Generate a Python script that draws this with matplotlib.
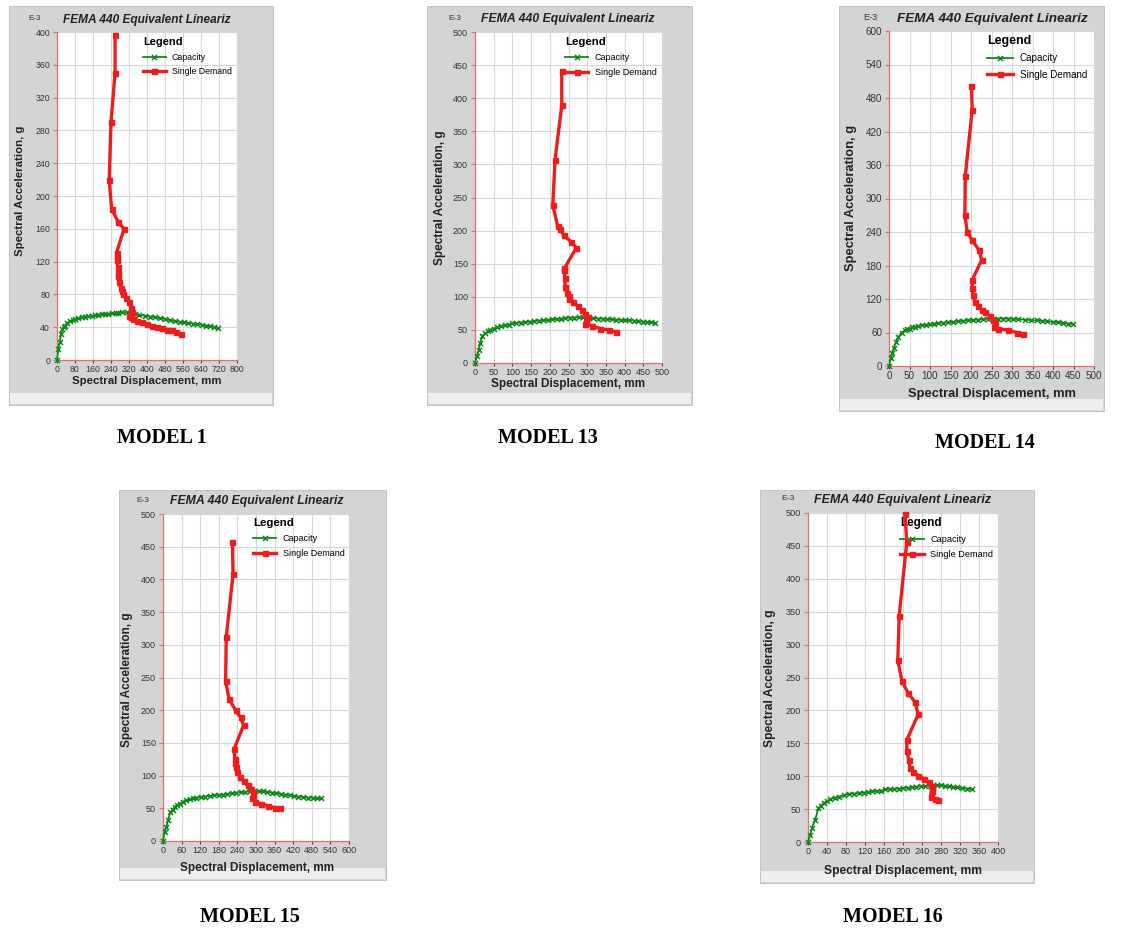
import matplotlib
matplotlib.use("Agg")
import matplotlib.pyplot as plt
from matplotlib.patches import Rectangle
from matplotlib.lines import Line2D

W, H = 1123, 931

# --- data (spectral displacement mm, spectral acceleration E-3 g) ---
cap1_x = [0, 6, 12, 18, 24, 30, 36, 45, 58, 70, 80, 95, 110, 125, 139, 155, 170, 184, 200, 215,
          228, 245, 260, 273, 290, 310, 328, 347, 365, 391, 413, 436, 458, 480, 502, 524, 545, 566,
          584, 604, 623, 643, 662, 680, 697, 714]
cap1_y = [0, 13, 22, 32, 38, 40, 42, 45, 47, 49, 50, 51, 52, 53, 53.5, 54, 54.5, 55, 55.5, 56,
          56, 57, 57, 57.5, 58, 58, 57, 56, 55, 54, 53, 52, 51, 50, 48.5, 47, 46.5, 46,
          45, 44.5, 44, 43, 42, 41, 40, 39]
dem1_x = [258, 258, 240, 232, 243, 273, 298, 265, 268, 268, 270, 270, 270, 276, 284, 290, 295,
          307, 320, 329, 332, 320, 330, 339, 355, 376, 398, 421, 443, 465, 488, 510, 530, 551]
dem1_y = [396, 350, 290, 219, 184, 168, 160, 131, 126, 122, 113, 106, 102, 95, 88, 84, 81,
          76, 71, 64, 58, 54, 52, 50, 48, 46, 44, 42, 40, 39, 37, 36, 34, 32]

cap13_x = [0, 5, 10, 14, 20, 28, 35, 41, 50, 59, 70, 81, 90, 99, 110, 122, 134, 146, 158, 170,
           182, 194, 206, 218, 230, 241, 253, 265, 277, 290, 303, 316, 330, 342, 354, 366, 378,
           390, 401, 413, 425, 437, 449, 460, 470, 480]
cap13_y = [0, 10, 20, 30, 41, 45, 48, 50, 52, 54, 56, 57, 58, 60, 60.5, 61, 62, 62.5, 63, 64,
           64.5, 65, 66, 66.5, 67, 68, 68.5, 68.5, 69, 69, 69, 68, 67, 67, 66.5, 66, 65.5,
           65, 65, 64.5, 64, 63, 62.5, 62, 61.5, 61]
dem13_x = [232, 232, 214, 208, 221, 228, 237, 257, 271, 239, 239, 240, 241, 245, 250, 252, 262,
           275, 286, 294, 302, 297, 295, 312, 335, 357, 377]
dem13_y = [441, 389, 307, 238, 207, 203, 193, 183, 174, 143, 141, 128, 115, 105, 101, 97, 92,
           86, 80, 74, 69, 64, 59, 56, 52, 50, 47]

cap14_x = [0, 5, 8, 12, 17, 23, 31, 39, 45, 51, 57, 63, 71, 80, 90, 100, 110, 120, 132, 144,
           156, 169, 181, 193, 205, 218, 230, 242, 254, 266, 278, 291, 303, 315, 331, 347, 360,
           372, 386, 400, 412, 425, 437, 449]
cap14_y = [0, 14, 23, 33, 43, 52, 60, 64, 66, 67, 69, 70, 71.5, 73, 74, 75, 76, 77, 77.5, 78,
           79, 80, 81, 82, 82.5, 83, 84, 85, 85, 85, 85, 85, 84.5, 84, 83, 82, 81.5,
           81, 80, 79, 78, 77, 76, 75]
dem14_x = [201, 203, 186, 185, 191, 203, 220, 226, 203, 203, 205, 209, 218, 226, 234, 246, 254,
           258, 256, 266, 291, 311, 327]
dem14_y = [501, 459, 340, 270, 240, 225, 207, 190, 154, 139, 127, 115, 107, 101, 96, 89, 83,
           77, 70, 67, 64, 60, 57]

cap15_x = [0, 5, 11, 16, 24, 31, 38, 46, 54, 64, 75, 86, 97, 108, 122, 136, 150, 165, 180, 194,
           208, 222, 237, 251, 265, 280, 294, 309, 323, 337, 352, 366, 380, 395, 409, 423, 437,
           452, 468, 484, 498, 511]
cap15_y = [0, 14, 21, 32, 44, 48, 52, 55, 57, 60, 62, 63.5, 65, 66, 67, 68, 69, 70, 70.5, 71,
           72, 73, 74, 74.5, 75, 76, 76, 76, 76, 75, 74, 73, 72, 71, 70, 69, 68,
           67, 66.5, 66, 65.5, 65]
dem15_x = [224, 226, 204, 202, 213, 234, 250, 260, 229, 232, 232, 234, 239, 247, 260, 274, 285,
           290, 289, 287, 296, 317, 339, 360, 378]
dem15_y = [457, 408, 312, 244, 217, 200, 189, 177, 140, 125, 120, 113, 105, 98, 91, 85, 79,
           73, 68, 65, 60, 57, 54, 51, 50]

cap16_x = [0, 5, 8, 15, 22, 27, 33, 40, 47, 56, 65, 75, 86, 97, 107, 117, 126, 135, 145, 154,
           163, 172, 182, 191, 200, 210, 219, 228, 238, 247, 256, 264, 272, 280, 288, 296, 305,
           314, 324, 335, 345]
cap16_y = [0, 11, 21, 34, 51, 55, 59, 62, 65, 67, 69, 71, 73, 73.5, 74, 75, 76, 77, 77.5, 78,
           80, 80.5, 81, 81, 82, 82.5, 83, 84, 84.5, 85, 85.5, 86, 86, 86, 85.5, 85, 84,
           83, 82, 81, 80]
dem16_x = [204, 208, 192, 189, 198, 211, 225, 232, 208, 208, 212, 215, 222, 232, 244, 254, 261,
           262, 260, 258, 268, 274]
dem16_y = [499, 456, 344, 276, 244, 226, 213, 194, 155, 139, 125, 113, 107, 101, 96, 91, 85,
           80, 77, 69, 66, 64]

captions = ["MODEL 1", "MODEL 13", "MODEL 14", "MODEL 15", "MODEL 16"]
x_max = [800, 500, 500, 600, 400]
x_step = [80, 50, 50, 60, 40]
y_max = [400, 500, 600, 500, 500]
y_step = [40, 50, 60, 50, 50]

# --- layout in pixels of the 1123x931 picture ---
# gray frame (l, t, r, b), plot area (l, t, r, b)
frames = [(9, 6, 273, 405), (427, 6, 692, 405), (839, 6, 1104, 411),
          (119, 490, 386, 880), (760, 490, 1034, 883)]
plots = [(57, 32, 237, 360), (475, 32, 662, 363), (889, 31, 1094, 366),
         (163, 514, 349, 841), (808, 513, 998, 842)]
titles = [(147, 20), (568, 19), (992, 19), (257, 501), (903, 500)]
e3_pos = [(35, 18), (455, 18), (870, 17), (143, 500), (788, 499)]
ylab_pos = [(20, 191), (440, 198), (851, 198), (127, 680), (770, 678)]
xlab_pos = [(147, 381), (568, 384), (992, 394), (257, 868), (903, 871)]
leg_pos = [(143, 37), (565, 37), (987, 35), (253, 518), (900, 517)]
cap_pos = [(162, 438), (548, 438), (985, 443), (250, 917), (893, 917)]
scale = [1.0, 1.03, 1.13, 1.03, 1.05]

SANS = "Liberation Sans"
GREEN = "#0f8a1a"
RED = "#ee1c1c"
AXIS = "#e07070"


def fx(x):
    return x / W


def fy(y):
    return 1 - y / H


fig = plt.figure(figsize=(W / 100, H / 100), dpi=100)
fig.patch.set_facecolor("white")

series = [(cap1_x, cap1_y, dem1_x, dem1_y), (cap13_x, cap13_y, dem13_x, dem13_y),
          (cap14_x, cap14_y, dem14_x, dem14_y), (cap15_x, cap15_y, dem15_x, dem15_y),
          (cap16_x, cap16_y, dem16_x, dem16_y)]

for i in range(5):
    s = scale[i]
    l, t, r, b = frames[i]
    fig.patches.append(Rectangle((fx(l), fy(b)), (r - l) / W, (b - t) / H,
                                 transform=fig.transFigure, facecolor="#d4d4d4",
                                 edgecolor="#bdbdbd", lw=0.6, zorder=-2))
    # lighter strip at the bottom of the frame
    fig.patches.append(Rectangle((fx(l + 1), fy(b - 1)), (r - l - 2) / W, 11 / H,
                                 transform=fig.transFigure, facecolor="#eeeeee",
                                 edgecolor="none", zorder=-1))

    pl, pt, pr, pb = plots[i]
    ax = fig.add_axes([fx(pl), fy(pb), (pr - pl) / W, (pb - pt) / H])
    ax.set_zorder(1)
    ax.set_facecolor("white")
    cx, cy, dx, dy = series[i]
    ax.plot(cx, cy, color=GREEN, lw=1.3, marker="x", ms=3.6, mew=1.1, zorder=3,
            clip_on=False)
    ax.plot(dx, dy, color=RED, lw=2.4, marker="s", ms=3.6, zorder=4, clip_on=False)

    ax.set_xlim(0, x_max[i])
    ax.set_ylim(0, y_max[i])
    ax.set_xticks(range(0, x_max[i] + 1, x_step[i]))
    ax.set_yticks(range(0, y_max[i] + 1, y_step[i]))
    ax.grid(True, color="#d8d8d8", lw=0.8)
    ax.set_axisbelow(True)
    for side in ["top", "right"]:
        ax.spines[side].set_visible(False)
    for side in ["left", "bottom"]:
        ax.spines[side].set_color(AXIS)
        ax.spines[side].set_linewidth(0.9)
    ax.tick_params(axis="y", color=AXIS, labelcolor="#333333", length=3, width=0.8,
                   labelsize=6.3 * s, pad=2)
    ax.tick_params(axis="x", color="#444444", labelcolor="#333333", length=2.5, width=0.8,
                   labelsize=6.3 * s, pad=0.8)
    for lab in ax.get_xticklabels() + ax.get_yticklabels():
        lab.set_family(SANS)

    handles = [Line2D([], [], color=GREEN, lw=1.3, marker="x", ms=3.6, mew=1.1),
               Line2D([], [], color=RED, lw=2.4, marker="s", ms=3.6)]
    lx, ly = leg_pos[i]
    leg = ax.legend(handles, ["Capacity", "Single Demand"], loc="upper left",
                    bbox_to_anchor=(fx(lx), fy(ly)), bbox_transform=fig.transFigure,
                    frameon=False, borderpad=0, borderaxespad=0, title="Legend",
                    alignment="left", handlelength=2.6, handletextpad=0.7,
                    labelspacing=0.65, markerfirst=True,
                    prop={"family": SANS, "size": 6.3 * s},
                    title_fontproperties={"family": SANS, "weight": "bold", "size": 8 * s})
    leg.set_zorder(1)

    tx, ty = titles[i]
    fig.text(fx(tx), fy(ty), "FEMA 440 Equivalent Lineariz", family=SANS, weight="bold",
             style="italic", size=8.6 * s, ha="center", va="center", color="#222222")
    ex, ey = e3_pos[i]
    fig.text(fx(ex), fy(ey), "E-3", family=SANS, size=5.8 * s, ha="center", va="center",
             color="#333333")
    yx, yy = ylab_pos[i]
    fig.text(fx(yx), fy(yy), "Spectral Acceleration, g", family=SANS, weight="bold",
             size=8.2 * s, rotation=90, ha="center", va="center", color="#222222")
    xx, xy = xlab_pos[i]
    fig.text(fx(xx), fy(xy), "Spectral Displacement, mm", family=SANS, weight="bold",
             size=8.2 * s, ha="center", va="center", color="#222222")
    mx, my = cap_pos[i]
    fig.text(fx(mx), fy(my), captions[i], family="Liberation Serif", weight="bold",
             size=14.5, ha="center", va="center", color="black")

fig.savefig("out.png", dpi=100, facecolor="white")
plt.close()
